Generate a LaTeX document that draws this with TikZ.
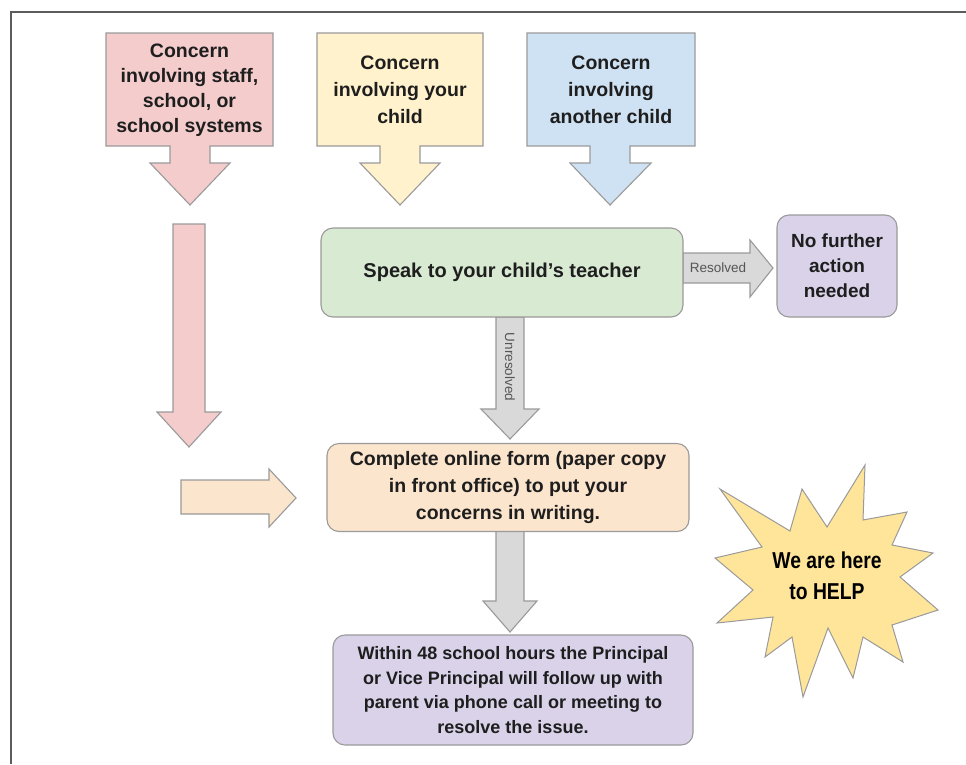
\documentclass[tikz,border=0pt]{standalone}
\usepackage{fontspec}
\setmainfont{Liberation Sans}
\newfontfamily\starfont[FakeStretch=0.84]{Liberation Sans}
\definecolor{pinkf}{HTML}{F4CCCC}
\definecolor{yellowf}{HTML}{FFF2CC}
\definecolor{bluef}{HTML}{CFE2F3}
\definecolor{greenf}{HTML}{D9EAD3}
\definecolor{purplef}{HTML}{D9D2E9}
\definecolor{orangef}{HTML}{FCE5CD}
\definecolor{grayf}{HTML}{D9D9D9}
\definecolor{starf}{HTML}{FFE599}
\definecolor{bordergray}{HTML}{9A9A9A}
\definecolor{framec}{HTML}{5C5C5C}
\definecolor{textc}{HTML}{1E1E1E}
\definecolor{lblc}{HTML}{555555}
\begin{document}
\begin{tikzpicture}[x=1pt,y=-1pt,
  shapeline/.style={draw=bordergray, line width=1.1pt, line join=miter},
  box/.style={shapeline, rounded corners=12pt, align=center, text=textc, inner sep=0pt},
  lbl/.style={align=center, text=textc, font=\fontsize{19.5}{27}\selectfont\bfseries},
  small/.style={text=lblc, inner sep=0pt, font=\fontsize{13.5}{15}\selectfont}
]
\useasboundingbox (0,0) rectangle (966,764);
\fill[white] (0,0) rectangle (966,764);
\draw[framec, line width=2pt] (966,12) -- (11,12) -- (11,764);

% top callouts
\filldraw[shapeline, fill=pinkf] (106,33) -- (273,33) -- (273,146) -- (210,146) -- (210,163) -- (230,163) -- (190,205) -- (150,163) -- (170,163) -- (170,146) -- (106,146) -- cycle;
\node[lbl, font=\fontsize{19.5}{25}\selectfont\bfseries] (staff) at (189.5,90) {Concern\\involving staff,\\school, or\\school systems};

\filldraw[shapeline, fill=yellowf] (317,33) -- (483,33) -- (483,146) -- (420,146) -- (420,163) -- (440,163) -- (400,205) -- (360,163) -- (380,163) -- (380,146) -- (317,146) -- cycle;
\node[lbl] (yourchild) at (400,90) {Concern\\involving your\\child};

\filldraw[shapeline, fill=bluef] (527,33) -- (695,33) -- (695,146) -- (630,146) -- (630,163) -- (651,163) -- (610,205) -- (570,163) -- (590,163) -- (590,146) -- (527,146) -- cycle;
\node[lbl] (another) at (611,90) {Concern\\involving\\another child};

% long pink arrow
\filldraw[shapeline, fill=pinkf] (173,224) -- (205,224) -- (205,412) -- (221,412) -- (189,447) -- (157,412) -- (173,412) -- cycle;

% block arrows (drawn before boxes)
\filldraw[shapeline, fill=grayf] (683,253) -- (750,253) -- (750,240) -- (773,268) -- (750,297) -- (750,283) -- (683,283) -- cycle;
\filldraw[shapeline, fill=grayf] (496,317) -- (524,317) -- (524,409) -- (539,409) -- (510,439) -- (481,409) -- (496,409) -- cycle;
\filldraw[shapeline, fill=orangef] (181,480) -- (269,480) -- (269,469) -- (296,498) -- (269,527) -- (269,514) -- (181,514) -- cycle;
\filldraw[shapeline, fill=grayf] (496,531) -- (524,531) -- (524,601) -- (537,601) -- (510,632) -- (483,601) -- (496,601) -- cycle;

% boxes
\node[box, fill=greenf, minimum width=362pt, minimum height=89pt, font=\fontsize{20}{24}\selectfont\bfseries] (teacher) at (502,272.5) {Speak to your child\char"0027 s teacher};
\node[box, fill=purplef, minimum width=120pt, minimum height=102pt, font=\fontsize{19}{25}\selectfont\bfseries] (noaction) at (837,266) {No further\\action\\needed};
\node[box, fill=orangef, minimum width=362pt, minimum height=88pt, font=\fontsize{19.5}{27}\selectfont\bfseries] (form) at (508,487.5) {Complete online form (paper copy\\in front office) to put your\\concerns in writing.};
\node[box, fill=purplef, minimum width=360pt, minimum height=110pt, font=\fontsize{18}{24.4}\selectfont\bfseries] (principal) at (513,690) {Within 48 school hours the Principal\\or Vice Principal will follow up with\\parent via phone call or meeting to\\resolve the issue.};

% arrow labels
\node[small] (resolvedlbl) at (718,268) {Resolved};
\node[small, rotate=-90] (unreslbl) at (510,367) {Unresolved};

% star
\filldraw[draw=bordergray, line width=1pt, fill=starf, line join=miter]
  (720,489) -- (790,531) -- (802,489) -- (827,527) -- (865,465) -- (863,520)
  -- (907,512) -- (892,545) -- (933,553) -- (900,577) -- (938,610) -- (892,625)
  -- (903,662) -- (863,637) -- (853,678) -- (828,628) -- (803,697) -- (792,637)
  -- (765,657) -- (773,617) -- (717,623) -- (753,590) -- (715,558) -- (762,547) -- cycle;
\node[align=center, text=black, font=\starfont\fontsize{23}{31}\selectfont\bfseries] (help) at (827,576) {We are here\\to HELP};
\end{tikzpicture}
\end{document}
